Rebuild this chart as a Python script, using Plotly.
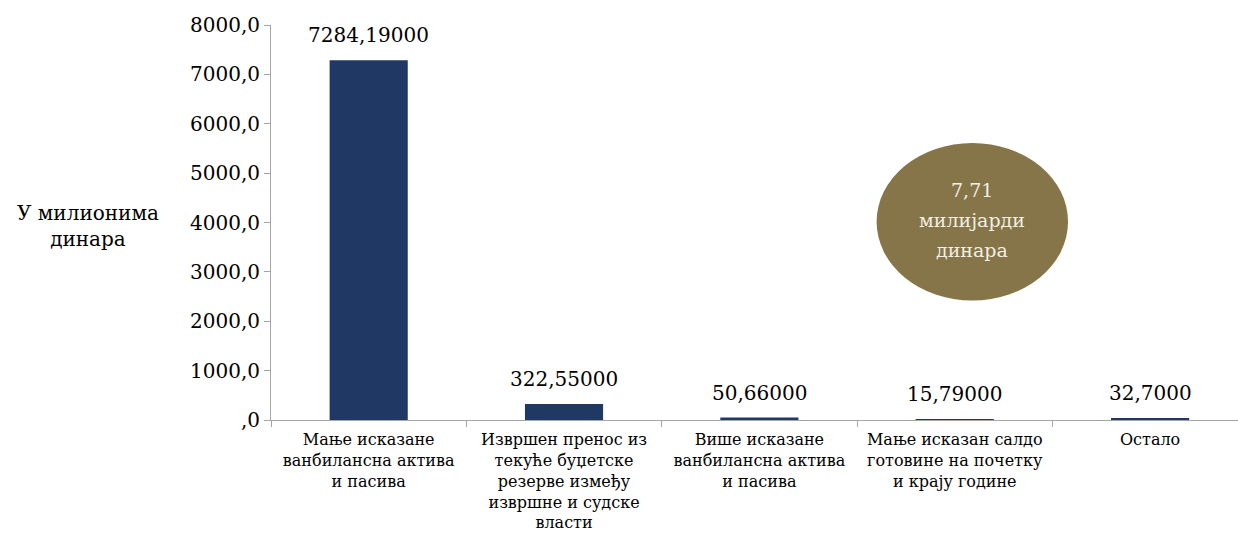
import plotly.graph_objects as go

categories = [
    "Мање исказане<br>ванбилансна актива<br>и пасива",
    "Извршен пренос из<br>текуће буџетске<br>резерве између<br>извршне и судске<br>власти",
    "Више исказане<br>ванбилансна актива<br>и пасива",
    "Мање исказан салдо<br>готовине на почетку<br>и крају године",
    "Остало",
]
values = [7284.19, 322.55, 50.66, 15.79, 32.70]
value_labels = ["7284,19000", "322,55000", "50,66000", "15,79000", "32,7000"]
y_tick_vals = [0, 1000, 2000, 3000, 4000, 5000, 6000, 7000, 8000]
y_tick_text = [",0", "1000,0", "2000,0", "3000,0", "4000,0", "5000,0", "6000,0", "7000,0", "8000,0"]
callout_lines = ["7,71", "милијарди", "динара"]

FONT = "DejaVu Serif"
BAR = "#1f3864"
AXIS = "#a6a6a6"

fig = go.Figure()
fig.add_trace(go.Bar(
    x=categories, y=values, width=0.4,
    marker=dict(color=BAR, line=dict(width=0)),
    hoverinfo="skip",
))

# value labels above each bar
for c, v, t in zip(categories, values, value_labels):
    fig.add_annotation(x=c, y=v, text=t, showarrow=False, yanchor="bottom",
                       yshift=11, font=dict(family=FONT, size=20, color="#000"))

# y-axis caption
fig.add_annotation(xref="paper", yref="paper", x=-0.189, y=0.49,
                   text="У милионима<br>динара", showarrow=False,
                   xanchor="center", yanchor="middle", align="center",
                   font=dict(family=FONT, size=20, color="#000"))

# total callout
fig.add_shape(type="circle", xref="x", yref="y", x0=2.6, x1=3.58, y0=2420, y1=5610,
              fillcolor="#857548", line=dict(width=0), layer="above")
for i, line in enumerate(callout_lines):
    fig.add_annotation(x=3.09, y=4015, xref="x", yref="y", text=line,
                       showarrow=False, yshift=32 - 30 * i,
                       font=dict(family=FONT, size=19, color="#f2efe4"))

fig.update_layout(
    width=1238, height=551,
    margin=dict(l=271, r=0, t=25, b=131),
    plot_bgcolor="white", paper_bgcolor="white",
    showlegend=False,
    font=dict(family=FONT),
    bargap=0.6,
    xaxis=dict(
        type="category", range=[-0.5, 4.45],
        tickson="boundaries", ticks="outside", ticklen=6, tickcolor=AXIS,
        showline=True, linecolor=AXIS, linewidth=1, showgrid=False,
        ticklabelstandoff=5,
        tickfont=dict(family=FONT, size=16, color="#000"),
    ),
    yaxis=dict(
        range=[0, 8000], tickvals=y_tick_vals, ticktext=y_tick_text,
        ticks="outside", ticklen=6, tickcolor=AXIS,
        showline=True, linecolor=AXIS, linewidth=1, showgrid=False, zeroline=False,
        tickfont=dict(family=FONT, size=20, color="#000"),
    ),
)

fig.write_html("out.html")
